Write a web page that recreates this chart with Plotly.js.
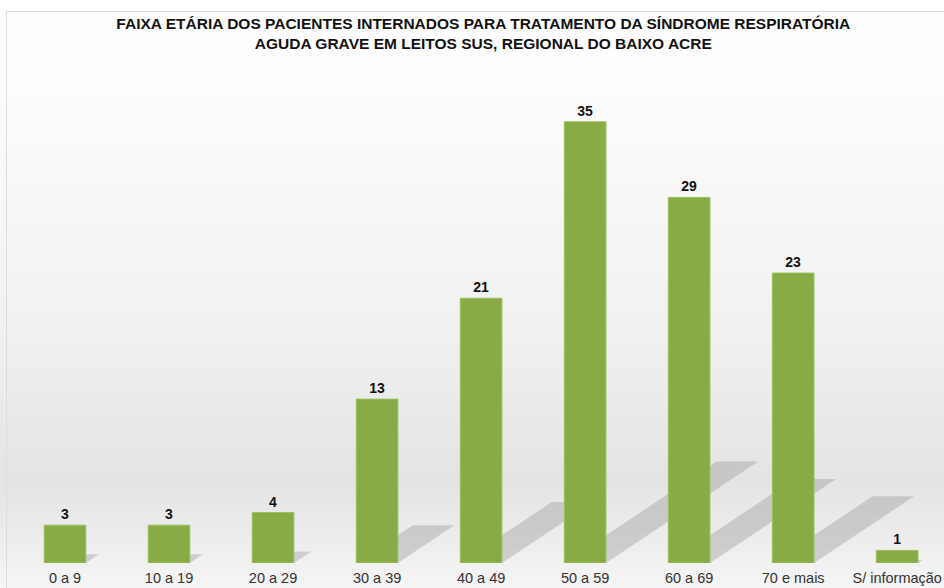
<!DOCTYPE html>
<html>
<head>
<meta charset="utf-8">
<script src="https://cdn.plot.ly/plotly-3.0.1.min.js"></script>
<style>
  html, body { margin:0; padding:0; width:944px; height:588px; overflow:hidden;
    background: linear-gradient(to bottom, #ffffff 0%, #fcfcfc 18%, #f1f1f1 55%, #e4e4e4 82%, #eeeeee 93%, #f6f6f6 100%); }
  #frame { position:absolute; left:6px; top:11px; width:960px; height:600px; border:1px solid #dcdcdc; box-sizing:border-box; }
  #chart { position:absolute; left:0; top:0; width:944px; height:588px; }
</style>
</head>
<body>
<div id="frame"></div>
<div id="chart"></div>
<script>
// Data
const categories = ["0 a 9", "10 a 19", "20 a 29", "30 a 39", "40 a 49", "50 a 59", "60 a 69", "70 e mais", "S/ informação"];
const patients = [3, 3, 4, 13, 21, 35, 29, 23, 1];
const chartTitle = "FAIXA ETÁRIA DOS PACIENTES INTERNADOS PARA TRATAMENTO DA SÍNDROME RESPIRATÓRIA<br>AGUDA GRAVE EM LEITOS SUS, REGIONAL DO BAIXO ACRE";

// Decorative shadows derived from each bar's value
const halfW = 0.2;
const shapes = patients.map((v, i) => {
  const rise = 0.23 * v;
  const dx = 0.0418 * v;
  const x0 = i - halfW, x1 = i + halfW;
  return {
    type: 'path', xref: 'x', yref: 'y', layer: 'below',
    path: `M ${x0} 0 L ${x1} 0 L ${x1 + dx} ${rise} L ${x0 + dx} ${rise} Z`,
    fillcolor: 'rgba(150,150,150,0.38)', line: {width: 0}
  };
});

const trace = {
  type: 'bar',
  x: categories,
  y: patients,
  text: patients.map(String),
  textposition: 'outside',
  cliponaxis: false,
  textfont: {family: 'Liberation Sans, Arial, sans-serif', size: 14, color: '#111', weight: 'bold'},
  marker: {color: '#89ab46', line: {color: '#9cbf5a', width: 1}},
  hoverinfo: 'x+y'
};

const layout = {
  width: 944, height: 588,
  margin: {l: 13, r: 0, t: 60, b: 25},
  paper_bgcolor: 'rgba(0,0,0,0)',
  plot_bgcolor: 'rgba(0,0,0,0)',
  bargap: 0.6,
  showlegend: false,
  title: {
    text: chartTitle,
    font: {family: 'Liberation Sans, Arial, sans-serif', size: 15.5, color: '#111', weight: 'bold'},
    x: 0.512, xanchor: 'center', xref: 'container',
    y: 0.951, yanchor: 'middle', yref: 'container'
  },
  xaxis: {
    type: 'category',
    range: [-0.5, 8.45],
    showgrid: false, zeroline: false, showline: false,
    ticks: 'outside', ticklen: 2, tickcolor: 'rgba(0,0,0,0)',
    tickfont: {family: 'Liberation Sans, Arial, sans-serif', size: 14.5, color: '#333'}
  },
  yaxis: {
    range: [0, 39.9],
    showgrid: false, zeroline: false, showline: false, showticklabels: false, ticks: ''
  },
  shapes: shapes
};

Plotly.newPlot('chart', [trace], layout, {displayModeBar: false, staticPlot: true});
</script>
</body>
</html>
